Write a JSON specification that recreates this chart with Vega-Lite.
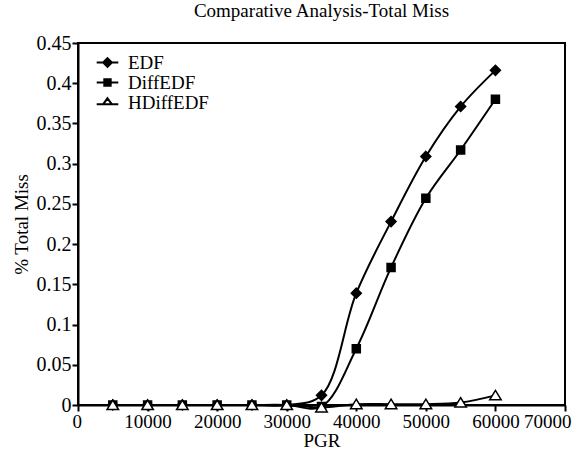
{
  "$schema": "https://vega.github.io/schema/vega-lite/v6.json",
  "width": 487,
  "height": 362,
  "autosize": "none",
  "padding": {"left": 78, "top": 43, "right": 21, "bottom": 48},
  "background": "white",
  "title": {"text": "Comparative Analysis-Total Miss", "font": "Liberation Serif", "fontSize": 19, "fontWeight": "normal", "color": "black", "offset": 12},
  "config": {
    "font": "Liberation Serif",
    "view": {"stroke": "black", "strokeWidth": 2},
    "axis": {
      "grid": false,
      "domainColor": "black",
      "domainWidth": 2,
      "tickColor": "black",
      "tickWidth": 2,
      "tickSize": 6,
      "labelFont": "Liberation Serif",
      "labelFontSize": 20,
      "labelColor": "black",
      "titleFont": "Liberation Serif",
      "titleFontSize": 19,
      "titleFontWeight": "normal",
      "titleColor": "black",
      "labelOverlap": false
    },
    "legend": {
      "labelFont": "Liberation Serif",
      "labelFontSize": 19,
      "labelColor": "black"
    }
  },
  "data": {
    "values": [
      {"series": "EDF", "pgr": 5000, "miss": 0},
      {"series": "EDF", "pgr": 10000, "miss": 0},
      {"series": "EDF", "pgr": 15000, "miss": 0},
      {"series": "EDF", "pgr": 20000, "miss": 0},
      {"series": "EDF", "pgr": 25000, "miss": 0},
      {"series": "EDF", "pgr": 30000, "miss": 0},
      {"series": "EDF", "pgr": 35000, "miss": 0.012},
      {"series": "EDF", "pgr": 40000, "miss": 0.139},
      {"series": "EDF", "pgr": 45000, "miss": 0.228},
      {"series": "EDF", "pgr": 50000, "miss": 0.309},
      {"series": "EDF", "pgr": 55000, "miss": 0.371},
      {"series": "EDF", "pgr": 60000, "miss": 0.416},
      {"series": "DiffEDF", "pgr": 5000, "miss": 0},
      {"series": "DiffEDF", "pgr": 10000, "miss": 0},
      {"series": "DiffEDF", "pgr": 15000, "miss": 0},
      {"series": "DiffEDF", "pgr": 20000, "miss": 0},
      {"series": "DiffEDF", "pgr": 25000, "miss": 0},
      {"series": "DiffEDF", "pgr": 30000, "miss": 0},
      {"series": "DiffEDF", "pgr": 35000, "miss": -0.002},
      {"series": "DiffEDF", "pgr": 40000, "miss": 0.07},
      {"series": "DiffEDF", "pgr": 45000, "miss": 0.171},
      {"series": "DiffEDF", "pgr": 50000, "miss": 0.257},
      {"series": "DiffEDF", "pgr": 55000, "miss": 0.317},
      {"series": "DiffEDF", "pgr": 60000, "miss": 0.38},
      {"series": "HDiffEDF", "pgr": 5000, "miss": 0},
      {"series": "HDiffEDF", "pgr": 10000, "miss": 0},
      {"series": "HDiffEDF", "pgr": 15000, "miss": 0},
      {"series": "HDiffEDF", "pgr": 20000, "miss": 0},
      {"series": "HDiffEDF", "pgr": 25000, "miss": 0},
      {"series": "HDiffEDF", "pgr": 30000, "miss": 0},
      {"series": "HDiffEDF", "pgr": 35000, "miss": -0.003},
      {"series": "HDiffEDF", "pgr": 40000, "miss": 0.001},
      {"series": "HDiffEDF", "pgr": 45000, "miss": 0.001},
      {"series": "HDiffEDF", "pgr": 50000, "miss": 0.001},
      {"series": "HDiffEDF", "pgr": 55000, "miss": 0.003},
      {"series": "HDiffEDF", "pgr": 60000, "miss": 0.012}
    ]
  },
  "encoding": {
    "x": {
      "field": "pgr", "type": "quantitative",
      "scale": {"domain": [0, 70000], "nice": false, "zero": false},
      "axis": {
        "values": [0, 10000, 20000, 30000, 40000, 50000, 60000, 70000], "format": "d", "title": "PGR", "titlePadding": 0, "labelPadding": 1,
        "labelFontSize": 19, "labelFlush": true, "labelFlushOffset": 6
      }
    },
    "y": {
      "field": "miss", "type": "quantitative",
      "scale": {"domain": [0, 0.45], "nice": false, "zero": false},
      "axis": {"values": [0, 0.05, 0.1, 0.15, 0.2, 0.25, 0.3, 0.35, 0.4, 0.45], "format": ".2~f", "title": "% Total Miss", "titlePadding": 5, "labelPadding": 1, "labelFlush": false}
    }
  },
  "resolve": {"scale": {"shape": "independent"}, "legend": {"shape": "independent"}},
  "layer": [
    {
      "mark": {"type": "line", "interpolate": "catmull-rom", "color": "black", "strokeWidth": 2},
      "encoding": {"detail": {"field": "series"}}
    },
    {
      "mark": {"type": "point", "filled": true, "fill": {"expr": "datum.series === 'HDiffEDF' ? 'white' : 'black'"}, "stroke": "black", "strokeWidth": 1.5, "size": 100, "opacity": 1},
      "encoding": {
        "shape": {
          "field": "series", "type": "nominal",
          "scale": {"domain": ["EDF", "DiffEDF", "HDiffEDF"], "range": ["M0,-1L1,0L0,1L-1,0Z", "M-0.8,-0.8L0.8,-0.8L0.8,0.8L-0.8,0.8Z", "M0,-1L1.15,0.9L-1.15,0.9Z"]},
          "legend": null
        }
      }
    },
    {
      "transform": [{"filter": "datum.pgr < 0"}],
      "mark": {"type": "point", "filled": false, "fill": {"expr": "datum.value === 'HDiffEDF' ? 'white' : 'black'"}, "stroke": "black", "strokeWidth": 2, "size": 64, "opacity": 1},
      "encoding": {
        "shape": {
          "field": "series", "type": "nominal",
          "scale": {"domain": ["EDF", "DiffEDF", "HDiffEDF"], "range": ["M-2.7,0L2.7,0M0,-1.1L1.1,0L0,1.1L-1.1,0Z", "M-2.7,0L2.7,0M-0.8,-0.8L0.8,-0.8L0.8,0.8L-0.8,0.8Z", "M-2.7,0.45L-1.1,0.45M1.1,0.45L2.7,0.45M0,-1.05L1.1,0.45L-1.1,0.45Z"]},
          "legend": {
            "title": null,
            "orient": "none",
            "legendX": 20,
            "legendY": 10,
            "symbolSize": 64,
            "symbolStrokeWidth": 2,
            "labelOffset": 11,
            "rowPadding": 0
          }
        }
      }
    }
  ]
}
